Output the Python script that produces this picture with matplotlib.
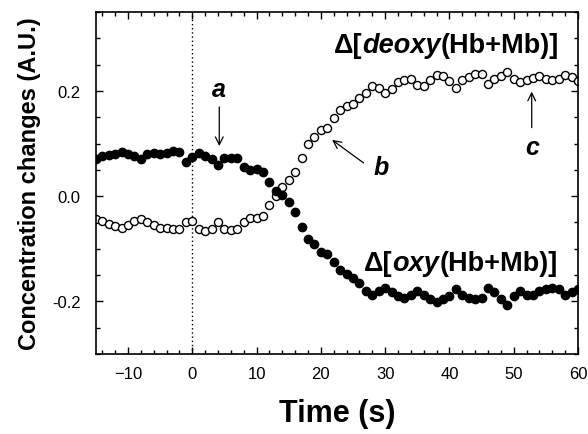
import matplotlib
matplotlib.use("Agg")
import matplotlib.pyplot as plt
from matplotlib.ticker import MultipleLocator, FixedLocator
import numpy as np

plt.rcParams['font.family'] = ['Liberation Sans', 'DejaVu Sans']

# ---- data ----
time_s = list(range(-15, 61))

oxy = [0.070, 0.076, 0.078, 0.080, 0.084, 0.080, 0.076, 0.070, 0.080, 0.082,
       0.080, 0.082, 0.086, 0.084, 0.064, 0.074, 0.082, 0.077, 0.070, 0.059,
       0.072, 0.072, 0.072, 0.055, 0.050, 0.051, 0.045, 0.026, 0.010, 0.002,
       -0.012, -0.030, -0.058, -0.082, -0.091, -0.107, -0.110, -0.126, -0.140, -0.148,
       -0.155, -0.166, -0.180, -0.187, -0.180, -0.174, -0.183, -0.190, -0.193, -0.187,
       -0.180, -0.187, -0.196, -0.202, -0.196, -0.190, -0.177, -0.188, -0.193, -0.196,
       -0.193, -0.174, -0.183, -0.195, -0.206, -0.190, -0.180, -0.187, -0.187, -0.180,
       -0.177, -0.174, -0.177, -0.187, -0.183, -0.177]

deoxy = [-0.044, -0.048, -0.053, -0.057, -0.060, -0.055, -0.047, -0.044, -0.050, -0.055,
         -0.060, -0.060, -0.062, -0.063, -0.049, -0.048, -0.062, -0.066, -0.063, -0.049,
         -0.062, -0.064, -0.063, -0.050, -0.041, -0.041, -0.037, -0.017, 0.000, 0.017,
         0.031, 0.046, 0.073, 0.099, 0.113, 0.125, 0.130, 0.148, 0.164, 0.172,
         0.175, 0.186, 0.197, 0.210, 0.205, 0.197, 0.204, 0.217, 0.220, 0.222,
         0.211, 0.210, 0.220, 0.230, 0.228, 0.218, 0.206, 0.220, 0.226, 0.232,
         0.232, 0.213, 0.222, 0.229, 0.236, 0.223, 0.217, 0.220, 0.224, 0.228,
         0.223, 0.220, 0.222, 0.230, 0.226, 0.218]

x_ticks = [-10, 0, 10, 20, 30, 40, 50, 60]
y_ticks = [-0.2, 0.0, 0.2]
y_tick_labels = ['-0.2', '0.0', '0.2']

# ---- figure ----
fig = plt.figure(figsize=(5.88, 4.35), dpi=100)
ax = fig.add_axes([0.163, 0.184, 0.820, 0.786])

ax.axvline(0, color='black', linestyle=(0, (1, 2)), linewidth=1.0, zorder=1)

ax.plot(time_s, deoxy, linestyle='none', marker='o', markersize=5.8,
        markerfacecolor='white', markeredgecolor='black', markeredgewidth=1.0, zorder=2)
ax.plot(time_s, oxy, linestyle='none', marker='o', markersize=6.0,
        markerfacecolor='black', markeredgecolor='black', zorder=3)

ax.set_xlim(-15, 60)
ax.set_ylim(-0.30, 0.35)
ax.xaxis.set_major_locator(FixedLocator(x_ticks))
ax.xaxis.set_minor_locator(MultipleLocator(2))
ax.yaxis.set_major_locator(FixedLocator(y_ticks))
ax.set_yticklabels(y_tick_labels)
ax.yaxis.set_minor_locator(MultipleLocator(0.05))
ax.tick_params(which='both', direction='in', top=True, right=True, width=1.0)
ax.tick_params(which='major', length=5, labelsize=12)
ax.tick_params(axis='y', which='major', pad=11)
ax.tick_params(axis='x', which='major', pad=9)
ax.tick_params(which='minor', length=3)
for s in ax.spines.values():
    s.set_linewidth(1.2)

ax.set_xlabel('Time (s)', fontsize=22, fontweight='bold', labelpad=12)
ax.set_ylabel('Concentration changes (A.U.)', fontsize=17, fontweight='bold', labelpad=8)

# series labels (Δ[ italic (Hb+Mb)])
def chain_label(x, y, parts, size):
    prev = None
    for txt, it in parts:
        kw = dict(fontsize=size, fontweight='bold', style='italic' if it else 'normal')
        if prev is None:
            prev = ax.text(x, y, txt, va='bottom', ha='left', **kw)
        else:
            prev = ax.annotate(txt, xy=(1, 0), xycoords=prev, va='bottom', ha='left', **kw)

chain_label(22.0, 0.262, [('Δ[', False), ('deoxy', True), ('(Hb+Mb)]', False)], 19.5)
chain_label(26.7, -0.152, [('Δ[', False), ('oxy', True), ('(Hb+Mb)]', False)], 19.5)

arrow = dict(arrowstyle='->', color='black', linewidth=0.9, mutation_scale=14)
ax.annotate('', xy=(4.2, 0.090), xytext=(4.2, 0.175), arrowprops=arrow)
ax.text(4.2, 0.180, 'a', fontsize=18, fontweight='bold', style='italic', ha='center', va='bottom')
ax.annotate('', xy=(21.4, 0.110), xytext=(27.0, 0.060), arrowprops=arrow)
ax.text(29.4, 0.055, 'b', fontsize=18, fontweight='bold', style='italic', ha='center', va='center')
ax.annotate('', xy=(52.8, 0.204), xytext=(52.8, 0.125), arrowprops=arrow)
ax.text(52.8, 0.093, 'c', fontsize=18, fontweight='bold', style='italic', ha='center', va='center')

fig.savefig('out.png', dpi=100)
